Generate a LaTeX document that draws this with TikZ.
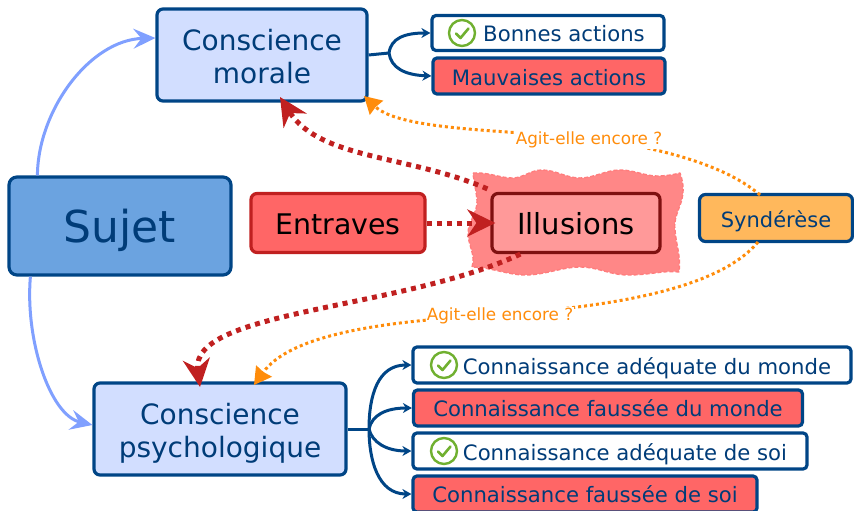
\documentclass[tikz,border=0pt]{standalone}
\usepackage{fontspec}
\setmainfont{DejaVu Sans}
\usetikzlibrary{arrows.meta,calc}
\definecolor{navy}{HTML}{004586}
\definecolor{txtblue}{HTML}{003C78}
\definecolor{paleblue}{HTML}{D2DEFF}
\definecolor{sujetblue}{HTML}{6BA3E0}
\definecolor{redfill}{HTML}{FF6666}
\definecolor{blobfill}{HTML}{FF8787}
\definecolor{darkred}{HTML}{7F1010}
\definecolor{arrowred}{HTML}{C02020}
\definecolor{illfill}{HTML}{FF9999}
\definecolor{orangeline}{HTML}{FF8C0A}
\definecolor{synfill}{HTML}{FFB85C}
\definecolor{lightarrow}{HTML}{80A0FF}
\definecolor{checkgreen}{HTML}{70B030}
\tikzset{
  x=1pt,y=-1pt,
  box/.style={draw=navy,line width=3.2pt,rounded corners=6pt,inner sep=0pt,text=txtblue,align=center},
  bigbox/.style={box,fill=paleblue,font=\fontsize{28}{33}\selectfont},
  good/.style={box,fill=white,rounded corners=4pt,font=\fontsize{21.2}{24}\selectfont,text height=20pt,text depth=2pt},
  bad/.style={box,fill=redfill,rounded corners=4pt,font=\fontsize{21.2}{24}\selectfont,text height=20pt,text depth=2pt},
  branch/.style={draw=navy,line width=3pt,-{Stealth[length=9pt,width=10pt]}},
  feed/.style={draw=lightarrow,line width=3pt,-{Stealth[length=22pt,width=20pt,inset=8pt]}},
  illu/.style={draw=arrowred,line width=5pt,dash pattern=on 5pt off 5pt,-{Stealth[length=28pt,width=27pt,inset=9pt]}},
  agit/.style={draw=orangeline,line width=3pt,dash pattern=on 3pt off 3pt,-{Stealth[length=17pt,width=19pt,inset=1pt]}},
  agitlabel/.style={fill=white,inner sep=1pt,text=orangeline,font=\fontsize{16.8}{19}\selectfont},
  blobshape/.style={line join=round},
  tick/.pic={\draw[checkgreen,line width=2.4pt,fill=white] (0,0) circle (13pt);
    \draw[checkgreen,line width=2.6pt,line cap=round,line join=round] (-6,0.5) -- (-1.5,5) -- (6.5,-4.5);}
}
\def\blob{(473,173) .. controls (488,172) and (500,178) .. (512,178) .. controls (524,178) and (530,170) .. (542,170) .. controls (556,170) and (566,178) .. (580,178) .. controls (594,178) and (606,170) .. (620,170) .. controls (634,170) and (645,176) .. (657,176) .. controls (665,176) and (672,175) .. (680,173)
 .. controls (686,190) and (682,200) .. (679,208) .. controls (676,216) and (674,222) .. (675,230) .. controls (676,245) and (681,255) .. (679,272)
 .. controls (665,270) and (650,275) .. (628,275) .. controls (610,275) and (598,267) .. (580,267) .. controls (562,267) and (545,275) .. (525,275) .. controls (508,275) and (490,267) .. (472,267)
 .. controls (476,255) and (468,245) .. (468,233) .. controls (468,222) and (478,212) .. (477,200) .. controls (476,190) and (474,182) .. (473,173) -- cycle}
\begin{document}
\begin{tikzpicture}
\useasboundingbox (0,0) rectangle (854,511);
% blob
\fill[blobfill,blobshape] \blob;
\draw[redfill!85!white,line width=1.4pt,dash pattern=on 4pt off 2pt,blobshape] \blob;
% nodes
\node[box,rounded corners=8pt,fill=sujetblue,minimum width=222pt,minimum height=98pt,font=\fontsize{44}{50}\selectfont,text height=43pt,text depth=10pt] (sujet) at (120,226) {Sujet};
\node[bigbox,minimum width=210pt,minimum height=92pt] (morale) at (262,55) {\rule{0pt}{24pt}Conscience\\morale};
\node[bigbox,minimum width=252pt,minimum height=92pt] (psy) at (220,429) {\rule{0pt}{30pt}Conscience\\psychologique};
\node[box,draw=arrowred,fill=redfill,text=black,minimum width=174pt,minimum height=59pt,font=\fontsize{28.4}{32}\selectfont,text height=22pt,text depth=0pt] (entraves) at (338,223) {Entraves};
\node[box,draw=darkred,fill=illfill,text=black,minimum width=168pt,minimum height=59pt,font=\fontsize{29}{32}\selectfont,text height=22pt,text depth=0pt] (illusions) at (576,223) {Illusions};
\node[box,fill=synfill,minimum width=153pt,minimum height=47pt,font=\fontsize{21}{24}\selectfont,text height=18pt,text depth=0pt] (synderese) at (776,218) {Syndérèse};
\node[good,minimum width=232pt,minimum height=35pt] (bonnes) at (548,33) {\hspace{32pt}Bonnes actions};
\node[bad,minimum width=232pt,minimum height=36pt] (mauvaises) at (549,76) {Mauvaises actions};
\node[good,minimum width=438pt,minimum height=36pt] (cam) at (632,365) {\hspace{30pt}Connaissance adéquate du monde};
\node[bad,minimum width=389pt,minimum height=36pt,text height=19pt] (cfm) at (608,408) {Connaissance faussée du monde};
\node[good,minimum width=394pt,minimum height=36pt] (cas) at (610,451) {\hspace{30pt}Connaissance adéquate de soi};
\node[bad,minimum width=344pt,minimum height=36pt,text height=19pt] (cfs) at (585,494) {Connaissance faussée de soi};
% ticks
\pic at (462,33) {tick};
\pic at (444,365) {tick};
\pic at (444,451) {tick};
% connectors
\coordinate (hubm) at (389,53);
\draw[navy,line width=3pt] (morale.east) -- (hubm);
\draw[branch] (hubm) .. controls (391,38) and (405,33) .. (bonnes.west);
\draw[branch] (hubm) .. controls (391,68) and (405,75) .. (mauvaises.west);
\coordinate (hub) at (369,429);
\draw[navy,line width=3pt] (psy.east) -- (hub);
\draw[branch] (hub) .. controls (369,395) and (378,365) .. (cam.west);
\draw[branch] (hub) .. controls (372,415) and (386,408) .. (cfm.west);
\draw[branch] (hub) .. controls (372,442) and (386,451) .. (cas.west);
\draw[branch] (hub) .. controls (369,460) and (378,494) .. (cfs.west);
\draw[feed] (sujet.north west) ++(30,0) .. controls (38,110) and (90,40) .. (morale.west |- 0,38);
\draw[feed] (sujet.south west) ++(23,0) .. controls (25,340) and (50,415) .. (psy.west |- 0,425);
\draw[illu] (entraves.east) -- ([xshift=5pt]illusions.west);
\draw[illu] (illusions.north west) ++(-3,-3) .. controls (410,155) and (320,160) .. (280,97);
\draw[illu] (illusions.south west) ++(30,0) .. controls (400,310) and (190,310) .. (200,387);
\coordinate (o1) at (760,195);
\coordinate (o2) at (758,242);
\draw[agit] (o1) .. controls (720,160) and (640,145) .. (590,138) .. controls (500,130) and (400,130) .. (364,96);
\draw[agit] (o2) .. controls (710,300) and (560,310) .. (480,316) .. controls (380,322) and (290,335) .. (254,385);
\node[agitlabel] (a1) at (589,140) {Agit-elle encore ?};
\node[agitlabel] (a2) at (500,316) {Agit-elle encore ?};
\end{tikzpicture}
\end{document}
